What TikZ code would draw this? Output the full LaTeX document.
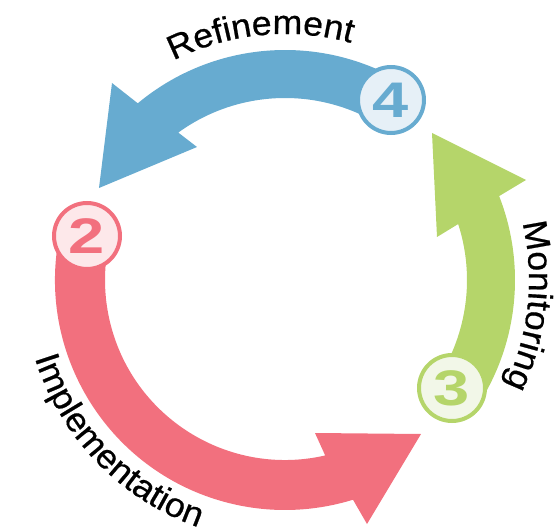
\documentclass[tikz,border=0pt]{standalone}
\usepackage{fontspec}
\setmainfont{Liberation Sans}
\newfontfamily\lblfont[FakeStretch=1.05,FakeBold=0.6]{Liberation Sans}
\newfontfamily\numfont[FakeStretch=1.3]{Liberation Sans}
\usetikzlibrary{decorations.text}
\definecolor{cred}{HTML}{F2707E}
\definecolor{cblue}{HTML}{67ABD0}
\definecolor{cgreen}{HTML}{B5D56A}
\definecolor{lred}{HTML}{FDE8EA}
\definecolor{lblue}{HTML}{E6F0F7}
\definecolor{lgreen}{HTML}{F2F7E8}
\begin{document}
\begin{tikzpicture}[x=1pt,y=1pt,
  stepcirc/.style={circle, line width=4pt, minimum size=66pt, inner sep=0pt,
    font=\numfont\bfseries\fontsize{50}{50}\selectfont},
  lbl/.style={decorate, decoration={text along path, text align=center,
    text={|\lblfont\fontsize{34}{40}\selectfont|#1}}}]
\useasboundingbox (-285,-247) rectangle (271,280);

% bands with arrowheads
\fill[cred] (167:230) arc[start angle=167, end angle=287.2, radius=230]
  -- (82,-244) -- (136,-154) -- (30,-153)
  -- (282.9:180) arc[start angle=282.9, end angle=167, radius=180] -- cycle;
\fill[cgreen] (-33:230) arc[start angle=-33, end angle=21.4, radius=230]
  -- (241,100) -- (147,147) -- (152,43)
  -- (17.9:182) arc[start angle=17.9, end angle=-33, radius=182] -- cycle;
\fill[cblue] (59:230) arc[start angle=59, end angle=129.8, radius=230]
  -- (-173,197) -- (-186,92) -- (-88,133)
  -- (125.9:182) arc[start angle=125.9, end angle=59, radius=182] -- cycle;

% step circles
\node[stepcirc, draw=cred, fill=lred, text=cred] (c2) at (-198,44) {2};
\node[stepcirc, draw=cgreen, fill=lgreen, text=cgreen] (c3) at (167,-108) {3};
\node[stepcirc, draw=cblue, fill=lblue, text=cblue] (c4) at (106,180) {4};

% labels along the arcs
\path[lbl=Refinement] (140.7:246) arc[start angle=140.7, end angle=50.7, radius=246];
\path[lbl=Monitoring] (40:244) arc[start angle=40, end angle=-52, radius=244];
\path[lbl=Implementation] (170:262) arc[start angle=170, end angle=278, radius=262];
\end{tikzpicture}
\end{document}
